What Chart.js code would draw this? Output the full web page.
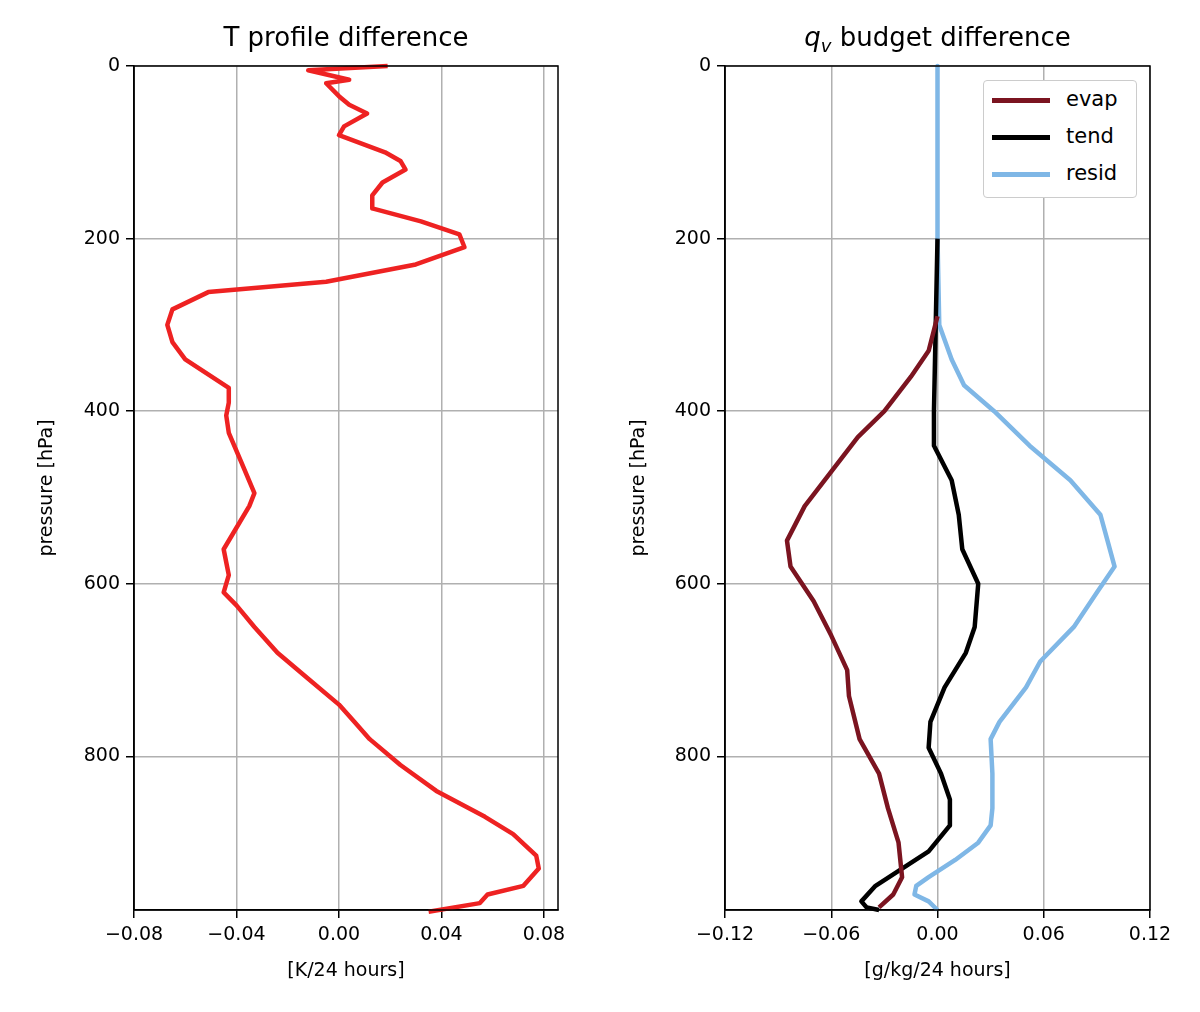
<!DOCTYPE html>
<html><head><meta charset="utf-8">
<script src="https://cdn.jsdelivr.net/npm/chart.js@4"></script>
<style>
body{margin:0;background:#fff;font-family:"DejaVu Sans",sans-serif;}
.box{position:absolute;top:0;height:1012px;}
.ttl{position:absolute;top:22px;font-size:26px;color:#000;text-align:center;}
#legend{position:absolute;left:983px;top:80px;width:152px;height:116px;border:1px solid #ccc;border-radius:4px;background:#fff;font-size:21px;}
#legend div{height:37px;line-height:37px;padding-left:8px;}
#legend span{display:inline-block;width:58px;height:5px;vertical-align:middle;margin-right:16px;}
</style></head>
<body>
<div class="box" style="left:0;width:580px"><canvas id="c1"></canvas></div>
<div class="box" style="left:600px;width:600px"><canvas id="c2"></canvas></div>
<div class="ttl" style="left:134px;width:424px">T profile difference</div>
<div class="ttl" style="left:725px;width:425px"><i>q</i><sub style="font-size:18px"><i>v</i></sub> budget difference</div>
<div id="legend">
<div><span style="background:#7b1420"></span>evap</div>
<div><span style="background:#000"></span>tend</div>
<div><span style="background:#7fb7e6"></span>resid</div>
</div>
<script>
var tP = [0,5,16,20,35,45,55,70,80,100,110,120,135,150,165,180,195,210,230,250,262,282,300,320,340,373,390,405,425,460,495,510,540,560,575,590,610,625,650,680,710,740,760,780,810,840,870,890,915,930,950,960,970,980];
var tVal = [0.019,-0.012,0.004,-0.005,0.000,0.004,0.011,0.002,0.000,0.018,0.024,0.026,0.017,0.013,0.013,0.032,0.047,0.049,0.030,-0.005,-0.051,-0.065,-0.067,-0.065,-0.060,-0.043,-0.043,-0.044,-0.043,-0.038,-0.033,-0.035,-0.041,-0.045,-0.044,-0.043,-0.045,-0.040,-0.033,-0.024,-0.012,0.000,0.006,0.012,0.024,0.038,0.057,0.068,0.077,0.078,0.072,0.058,0.055,0.035];

var residP = [0,200,300,340,370,400,440,480,520,550,580,610,650,690,720,760,780,820,860,880,900,920,940,950,960,968,978];
var residVal = [0.000,0.000,0.001,0.008,0.015,0.032,0.052,0.075,0.092,0.096,0.100,0.090,0.077,0.058,0.050,0.035,0.030,0.031,0.031,0.030,0.023,0.010,-0.005,-0.012,-0.013,-0.005,0.000];
var tendP = [200,300,400,440,480,520,560,600,650,680,720,760,790,820,850,880,910,930,950,968,975,978];
var tendVal = [0.000,-0.001,-0.002,-0.002,0.008,0.012,0.014,0.023,0.021,0.016,0.004,-0.004,-0.005,0.002,0.007,0.007,-0.005,-0.020,-0.035,-0.043,-0.040,-0.033];
var evapP = [290,330,360,400,430,470,510,550,580,620,660,700,730,780,820,860,900,940,960,975];
var evapVal = [0.000,-0.005,-0.015,-0.030,-0.045,-0.060,-0.075,-0.085,-0.083,-0.070,-0.060,-0.051,-0.050,-0.044,-0.033,-0.028,-0.022,-0.020,-0.025,-0.033];

var yTicks = [0,200,400,600,800];
var tXTicks = [-0.08,-0.04,0,0.04,0.08];
var qXTicks = [-0.12,-0.06,0,0.06,0.12];

function pts(p, v){ return p.map(function(y,i){ return {x:v[i], y:y}; }); }
function fmt(v){ var s = Math.abs(v).toFixed(2); return (v < -1e-9 ? '\u2212' : '') + s; }
Chart.defaults.font.family = '"DejaVu Sans", sans-serif';
Chart.defaults.font.size = 19;
Chart.defaults.color = '#000';

function make(id, datasets, xmin, xmax, xt, padL, ylw, padR){
  new Chart(document.getElementById(id), {
    type: 'scatter',
    data: { datasets: datasets },
    options: {
      responsive: true, maintainAspectRatio: false, animation: false,
      layout: { padding: { top: 66, right: padR, left: padL, bottom: 26 } },
      plugins: { legend: { display: false }, tooltip: { enabled: false } },
      scales: {
        x: { type: 'linear', min: xmin, max: xmax,
             afterBuildTicks: function(s){ s.ticks = xt.map(function(v){ return {value:v}; }); },
             afterFit: function(s){ s.height = 76; },
             ticks: { callback: fmt, padding: 6 },
             grid: { color: '#b0b0b0', lineWidth: 1.5, tickLength: 8, tickColor: '#000' },
             border: { color: '#000', width: 1.5 },
             title: { display: true, text: id == 'c1' ? '[K/24 hours]' : '[g/kg/24 hours]', padding: {top: 2} } },
        y: { type: 'linear', reverse: true, min: 0, max: 978,
             afterBuildTicks: function(s){ s.ticks = yTicks.map(function(v){ return {value:v}; }); },
             afterFit: function(s){ s.width = ylw; },
             ticks: { padding: 6 },
             grid: { color: '#b0b0b0', lineWidth: 1.5, tickLength: 8, tickColor: '#000' },
             border: { color: '#000', width: 1.5 },
             title: { display: true, text: 'pressure [hPa]', padding: 4 } }
      }
    },
    plugins: [{ id: 'frame', afterDraw: function(c){
      var a = c.chartArea, g = c.ctx; g.save(); g.strokeStyle = '#000'; g.lineWidth = 1.5;
      g.strokeRect(a.left, a.top, a.right - a.left, a.bottom - a.top); g.restore(); } }]
  });
}
function ds(p, v, col){ return { data: pts(p, v), showLine: true, borderColor: col, borderWidth: 4.5, borderJoinStyle: 'round', pointRadius: 0, clip: 4 }; }

make('c1', [ds(tP, tVal, '#ee2222')], -0.08, 0.0855, tXTicks, 32, 102, 22);
make('c2', [ds(evapP, evapVal, '#7b1420'), ds(tendP, tendVal, '#000'), ds(residP, residVal, '#7fb7e6')], -0.12, 0.12, qXTicks, 24, 101, 50);
</script>
</body></html>
